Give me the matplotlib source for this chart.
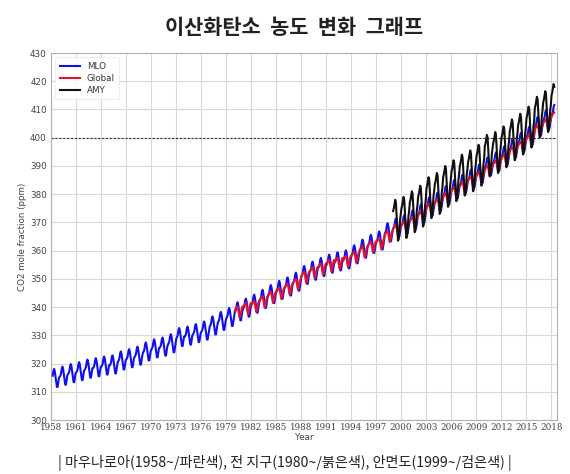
import numpy as np
import matplotlib
matplotlib.use("Agg")
import matplotlib.pyplot as plt

plt.rcParams['font.family'] = ['DejaVu Sans', 'Noto Sans CJK KR']

# ---- data ----
mlo_years = list(range(1958, 2019))
mlo_annual = [315.2, 316.0, 316.9, 317.6, 318.5, 319.0, 319.6, 320.0, 321.4, 322.2,
              323.1, 324.6, 325.7, 326.3, 327.5, 329.7, 330.2, 331.1, 332.0, 333.8,
              335.4, 336.8, 338.8, 340.1, 341.5, 343.2, 344.9, 346.4, 347.6, 349.3,
              351.7, 353.2, 354.5, 355.7, 356.5, 357.2, 359.0, 361.0, 362.7, 363.9,
              366.8, 368.5, 369.7, 371.3, 373.5, 376.0, 377.7, 380.0, 382.1, 384.0,
              385.8, 387.6, 390.1, 391.9, 394.1, 396.7, 398.8, 401.0, 404.4, 406.8,
              408.7]
# monthly departures (Jan..Dec) from the annual mean
mlo_season = [-0.7, -0.3, 0.5, 2.2, 2.9, 2.0, 0.2, -1.7, -3.5, -3.5, -1.9, -0.2]

glb_years = list(range(1980, 2019))
glb_annual = [338.9, 340.1, 340.9, 342.5, 344.1, 345.5, 347.0, 348.7, 351.2, 352.8,
              354.1, 355.4, 356.1, 356.8, 358.3, 360.2, 361.9, 363.1, 365.7, 367.8,
              369.0, 370.6, 372.6, 375.2, 377.0, 379.0, 381.2, 382.9, 385.0, 386.5,
              388.8, 390.6, 392.7, 395.4, 397.3, 399.7, 403.1, 405.2, 407.6]
glb_season = [-0.2, 0.3, 0.7, 1.2, 1.3, 0.4, -1.3, -2.6, -2.1, -0.7, 0.6, 1.3]

amy_years = list(range(1999, 2019))
amy_annual = [371.5, 372.5, 374.5, 376.5, 379.5, 381.0, 383.5, 385.5, 387.5, 389.0,
              391.0, 394.5, 395.5, 397.5, 400.0, 402.0, 404.5, 408.0, 410.0, 412.5]
amy_season = [2.5, 3.5, 5.0, 6.5, 5.5, 1.0, -4.0, -8.0, -7.5, -5.0, -0.5, 1.5]

mlo_first_month = 3   # March 1958
last_month = 5        # May 2018

x_ticks = list(range(1958, 2019, 3))
y_ticks = list(range(300, 431, 10))


def monthly(years, annual, season, first_month=1, end_month=12):
    xs, ys = [], []
    for i, (yr, a) in enumerate(zip(years, annual)):
        m0 = first_month if i == 0 else 1
        m1 = end_month if i == len(years) - 1 else 12
        for m in range(m0, m1 + 1):
            xs.append(yr + (m - 0.5) / 12.0)
            ys.append(a + season[m - 1])
    return xs, ys


mx, my = monthly(mlo_years, mlo_annual, mlo_season, mlo_first_month, last_month)
gx, gy = monthly(glb_years, glb_annual, glb_season, 1, last_month)
ax_, ay = monthly(amy_years, amy_annual, amy_season, 1, last_month)

fig = plt.figure(figsize=(5.70, 4.74), dpi=100)
ax = fig.add_axes([51 / 570, 1 - 420 / 474, (557 - 51) / 570, (420 - 53) / 474])

ax.plot(mx, my, color='#1010ee', lw=1.5, label='MLO', zorder=3)
ax.plot(gx, gy, color='#e0142e', lw=1.5, label='Global', zorder=4)
ax.plot(ax_, ay, color='#111111', lw=1.5, label='AMY', zorder=5)
ax.axhline(400, color='#333333', lw=0.8, ls=(0, (2, 1.5)), zorder=2)

ax.set_xlim(1958, 2018.7)
ax.set_ylim(300, 430)
ax.set_xticks(x_ticks)
ax.set_xticklabels([str(t) for t in x_ticks], family='DejaVu Serif', fontsize=6.3, color='#444444')
ax.set_yticks(y_ticks)
ax.set_yticklabels([str(t) for t in y_ticks], fontsize=6.3, color='#444444')
ax.tick_params(axis='both', length=0)
ax.tick_params(axis='x', pad=2)
ax.tick_params(axis='y', pad=3)
ax.grid(True, color='#d8d8d8', lw=0.8, zorder=0)
for s in ax.spines.values():
    s.set_color('#b0b0b0')
    s.set_linewidth(0.8)

ax.set_xlabel('Year', fontsize=6.3, color='#444444', labelpad=1)
ax.set_ylabel('CO2 mole fraction (ppm)', fontsize=6.3, color='#444444', labelpad=2)

leg = ax.legend(loc='upper left', fontsize=6.3, handlelength=2.3, frameon=True,
                borderpad=0.5, labelspacing=0.35, handletextpad=0.8)
leg.get_frame().set_edgecolor('#e6e6e6')
leg.get_frame().set_linewidth(0.6)
for t in leg.get_texts():
    t.set_color('#333333')

fig.text(0.515, 1 - 28 / 474, '이산화탄소  농도  변화  그래프', ha='center', va='center',
         fontsize=15, fontweight='bold', family=['Noto Sans CJK KR', 'DejaVu Sans'], color='#222222')
fig.text(0.5, 1 - 463 / 474, '| 마우나로아(1958~/파란색), 전 지구(1980~/붉은색), 안면도(1999~/검은색) |',
         ha='center', va='center', fontsize=10.2, family=['Noto Sans CJK KR', 'DejaVu Sans'], color='#222222')

fig.savefig('out.png', dpi=100)
